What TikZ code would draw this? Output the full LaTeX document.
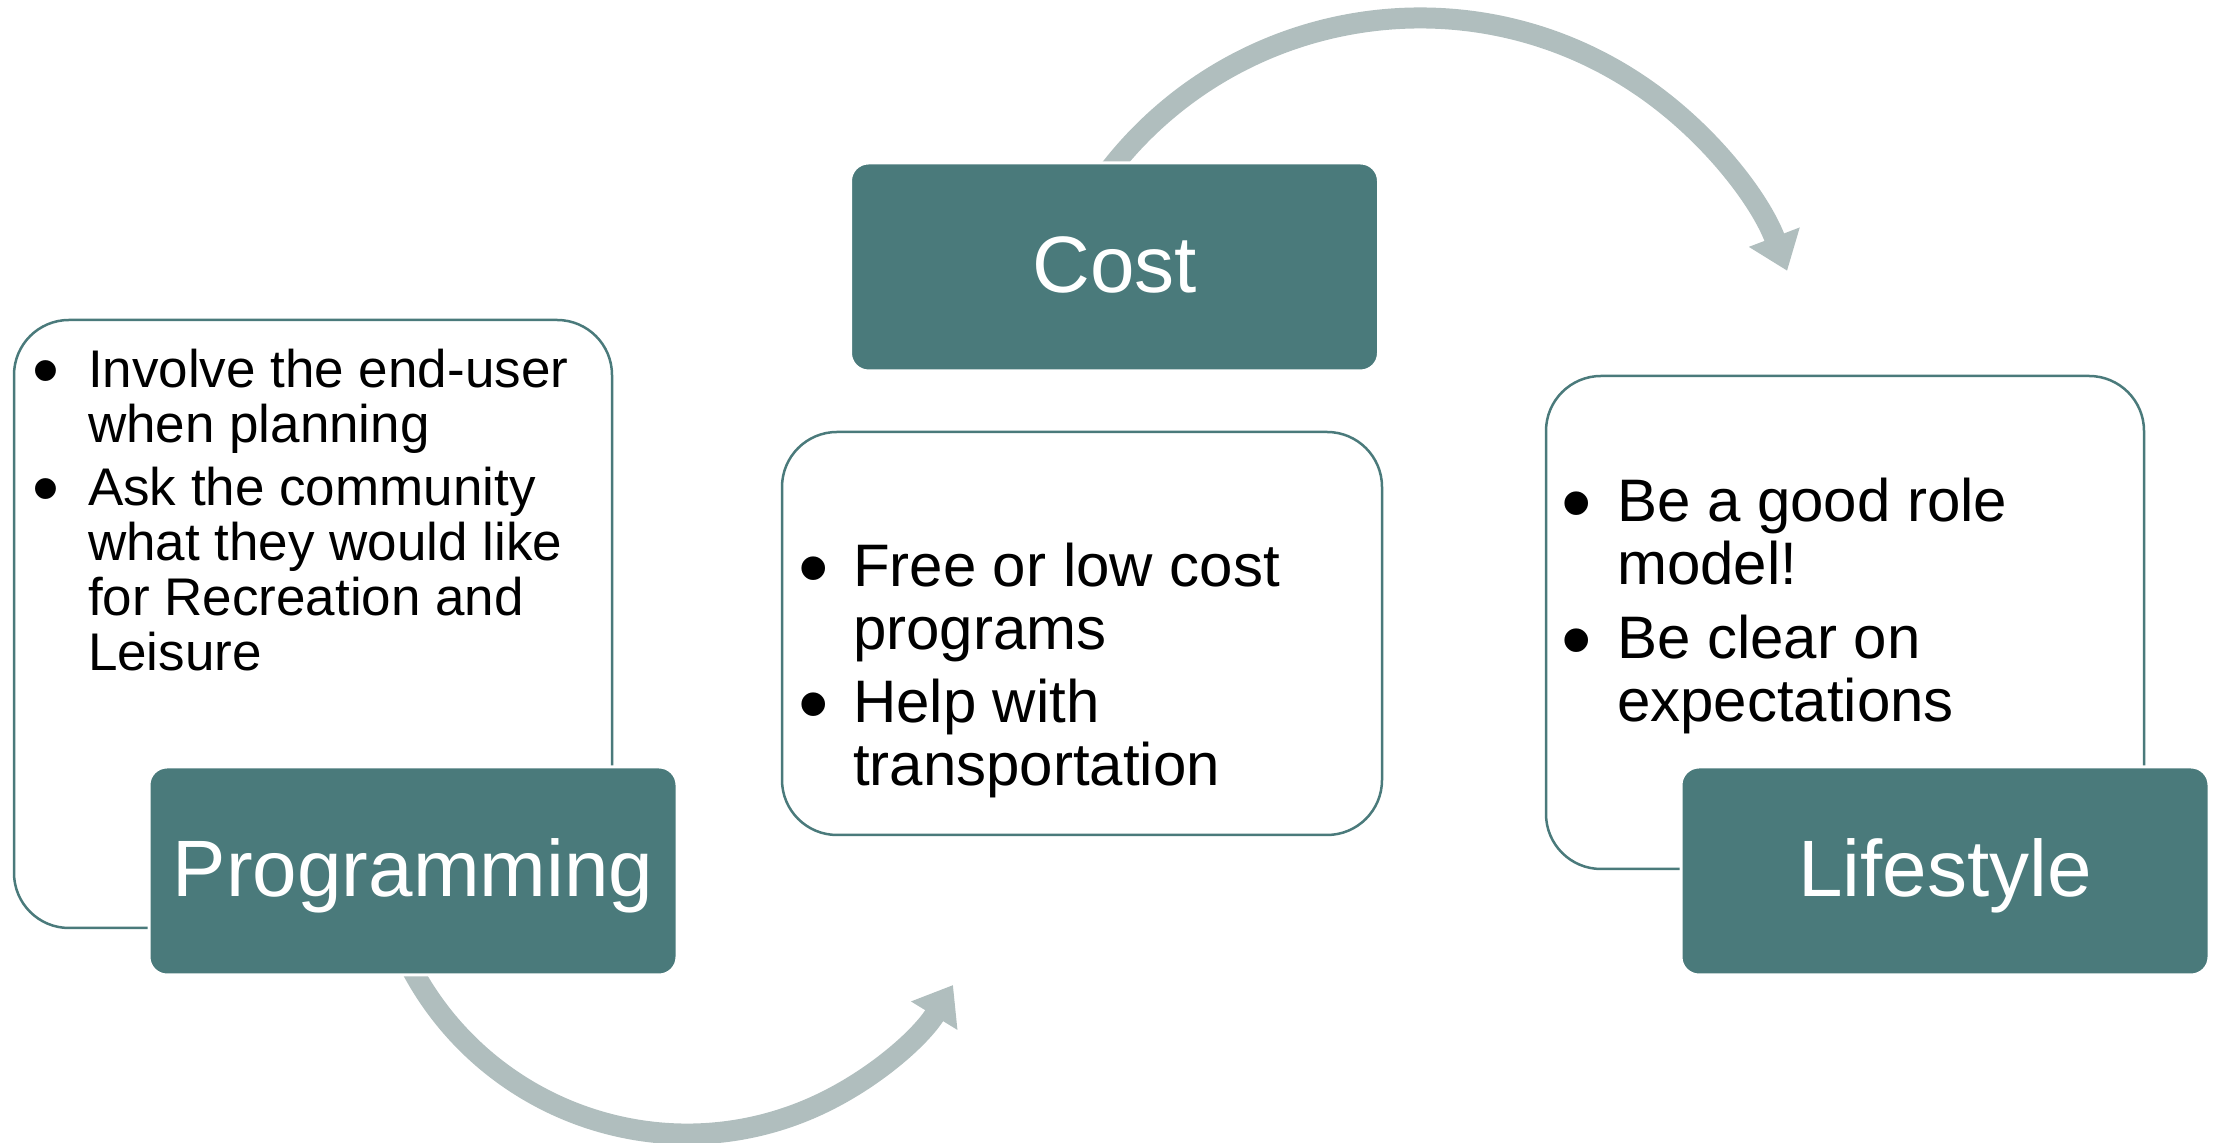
\documentclass[tikz,border=0pt]{standalone}
\usepackage{fontspec}
\setmainfont{Liberation Sans}
\usetikzlibrary{arrows.meta}
\definecolor{boxteal}{RGB}{74,122,123}
\definecolor{arrowgray}{RGB}{176,190,190}
\pgfdeclarelayer{background}
\pgfsetlayers{background,main}
\newlength\bulletwd
\newcommand{\bigbullet}{\hskip-0.06em\raisebox{-0.17em}{\scalebox{1.45}{•}}}
\newcommand{\bulline}[1]{\hbox{\makebox[\bulletwd][l]{\bigbullet}#1}}
\newcommand{\contline}[1]{\hbox{\hskip\bulletwd #1}}
\begin{document}
\begin{tikzpicture}[x=0.5pt,y=0.5pt,
  titlebox/.style={rectangle, rounded corners=9pt, fill=boxteal, draw=white, line width=1.5pt,
    minimum width=264pt, minimum height=104pt, inner sep=0pt, outer sep=0pt, text=white,
    font=\fontsize{40}{48}\selectfont, text height=30pt, text depth=4.5pt},
  textbox/.style={rectangle, rounded corners=27.5pt, draw=boxteal, line width=1.25pt, fill=white, inner sep=0pt, outer sep=0pt},
  cyclearrow/.style={draw=arrowgray, line width=10.5pt, line cap=butt, -{Triangle[length=18pt,width=26pt]}},
  bullettext/.style={anchor=base west, inner sep=0pt, outer sep=0pt, align=left}]
\useasboundingbox (0,0) rectangle (2222,1143);
% content boxes
\node[textbox, minimum width=299pt, minimum height=304pt] (lbox) at (313,519) {};
\node[textbox, minimum width=300pt, minimum height=201.5pt] (mbox) at (1082,509.5) {};
\node[textbox, minimum width=299pt, minimum height=246.5pt] (rbox) at (1845,520.5) {};
% title boxes
\node[titlebox] (prog) at (413,272) {Programming};
\node[titlebox] (cost) at (1114.5,876) {Cost};
\node[titlebox] (life) at (1945,272) {Lifestyle};
% bullet texts
\node[bullettext, font=\fontsize{26.5}{27.5}\selectfont] (ltext) at (36,755) {\setlength\bulletwd{26pt}\vtop{%
  \bulline{Involve the end-user}
  \contline{when planning}
  \vskip4pt
  \bulline{Ask the community}
  \contline{what they would like}
  \contline{for Recreation and}
  \contline{Leisure}}};
\node[bullettext, font=\fontsize{30}{31.5}\selectfont] (mtext) at (802,556) {\setlength\bulletwd{25.5pt}\vtop{%
  \bulline{Free or low cost}
  \contline{programs}
  \vskip5pt
  \bulline{Help with}
  \contline{transportation}}};
\node[bullettext, font=\fontsize{30}{31.5}\selectfont] (rtext) at (1565,621) {\setlength\bulletwd{26pt}\vtop{%
  \bulline{Be a good role}
  \contline{model!}
  \vskip5.5pt
  \bulline{Be clear on}
  \contline{expectations}}};
% cycle arrows behind the title boxes
\begin{pgfonlayer}{background}
\path (1420,732) ++(144:196.5pt) coordinate (costarrowstart);
\draw[cyclearrow] (costarrowstart) arc[start angle=144, end angle=20.9, radius=196.5pt];
\path (687,321) ++(205:156pt) coordinate (progarrowstart);
\draw[cyclearrow] (progarrowstart) arc[start angle=205, end angle=328.5, radius=156pt];
\end{pgfonlayer}
\end{tikzpicture}
\end{document}
